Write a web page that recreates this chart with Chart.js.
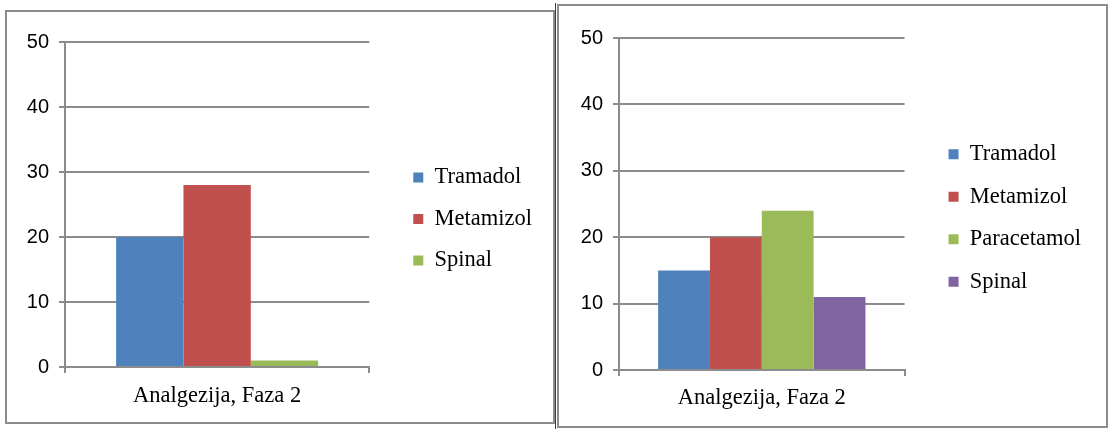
<!DOCTYPE html>
<html>
<head>
<meta charset="utf-8">
<script src="https://cdn.jsdelivr.net/npm/chart.js@4"></script>
<style>
  html, body { margin: 0; padding: 0; background: #ffffff; }
  body { width: 1108px; height: 429px; position: relative; overflow: hidden; }
  .panel { position: absolute; box-sizing: border-box; border: 2px solid #8c8c8c; background: #fff; }
  #p1 { left: 5px; top: 10px; width: 550px; height: 414px; }
  #p2 { left: 557px; top: 4px; width: 551px; height: 424px; }
  #sep { position: absolute; left: 555px; top: 3px; width: 1px; height: 426px; background: #3a3a3a; }
  canvas { position: absolute; }
  #c1 { left: 7px; top: 12px; }
  #c2 { left: 560px; top: 7px; }
</style>
</head>
<body>
<div class="panel" id="p1"></div>
<div class="panel" id="p2"></div>
<div id="sep"></div>
<canvas id="c1" width="545" height="410" style="width:545px;height:410px"></canvas>
<canvas id="c2" width="545" height="418" style="width:545px;height:418px"></canvas>
<script>
// ---- data ----
const categories = ['Analgezija, Faza 2'];
const leftSeries = ['Tramadol', 'Metamizol', 'Spinal'];
const leftValues = [20, 28, 1];
const rightSeries = ['Tramadol', 'Metamizol', 'Paracetamol', 'Spinal'];
const rightValues = [15, 20, 24, 11];
const yTicks = [0, 10, 20, 30, 40, 50];

// ---- styles ----
const seriesColors = {
  Tramadol: '#4F81BD',
  Metamizol: '#C0504D',
  Paracetamol: '#9BBB59',
  Spinal: '#8064A2'
};
const leftColors = ['#4F81BD', '#C0504D', '#9BBB59'];
const gridColor = '#8c8c8c';
const serif = "'Liberation Serif', 'Times New Roman', serif";

function makeChart(canvasId, names, values, colors, cfg) {
  const datasets = names.map((n, i) => ({
    label: n,
    data: [values[i]],
    backgroundColor: colors[i],
    borderWidth: 0,
    barPercentage: 1.0,
    categoryPercentage: cfg.catPct,
    xAxisID: 'x',
    yAxisID: 'y'
  }));
  return new Chart(document.getElementById(canvasId), {
    type: 'bar',
    data: { labels: categories, datasets },
    options: {
      responsive: false,
      animation: false,
      devicePixelRatio: 1,
      layout: { padding: cfg.padding },
      plugins: {
        tooltip: { enabled: false },
        legend: {
          position: 'right',
          align: 'center',
          maxWidth: 300,
          labels: {
            boxWidth: 10,
            boxHeight: 10,
            padding: cfg.legendPad,
            color: '#000',
            font: { family: serif, size: 22.5 }
          }
        }
      },
      scales: {
        x: {
          offset: true,
          grid: { drawOnChartArea: false, drawTicks: true, tickLength: 6, color: gridColor, lineWidth: 2, offset: true },
          border: { display: true, color: gridColor, width: 2 },
          ticks: {
            color: '#000',
            padding: cfg.xPad,
            maxRotation: 0,
            font: { family: serif, size: 22.5 }
          },
          afterFit: s => { s.height = cfg.xHeight; }
        },
        y: {
          min: 0,
          max: 50,
          grid: { color: gridColor, lineWidth: 2, tickLength: 6, drawTicks: true },
          border: { display: true, color: gridColor, width: 2 },
          ticks: {
            color: '#000',
            padding: 10,
            font: { family: "'Liberation Sans', Arial, sans-serif", size: 20 }
          },
          afterBuildTicks: s => { s.ticks = yTicks.map(v => ({ value: v })); },
          afterFit: s => { s.width = cfg.yWidth; }
        },
        gapRight: {
          type: 'linear',
          position: 'right',
          display: true,
          grid: { display: false },
          border: { display: false },
          ticks: { display: false },
          afterFit: s => { s.width = cfg.gapWidth; }
        },
        gapTop: {
          type: 'linear',
          position: 'top',
          display: true,
          grid: { display: false },
          border: { display: false },
          ticks: { display: false },
          afterFit: s => { s.height = cfg.topGap; }
        }
      }
    }
  });
}

makeChart('c1', leftSeries, leftValues, leftColors, {
  catPct: 0.664,
  padding: { top: 5, bottom: 1, left: 0, right: 10 },
  legendPad: 19,
  xPad: 10,
  xHeight: 54,
  topGap: 25,
  yWidth: 58,
  gapWidth: 25
});

makeChart('c2', rightSeries, rightValues, rightSeries.map(n => seriesColors[n]), {
  catPct: 0.726,
  padding: { top: 5, bottom: 1, left: 0, right: 14 },
  legendPad: 20,
  xPad: 9,
  xHeight: 54,
  topGap: 26,
  yWidth: 59,
  gapWidth: 24
});
</script>
</body>
</html>
